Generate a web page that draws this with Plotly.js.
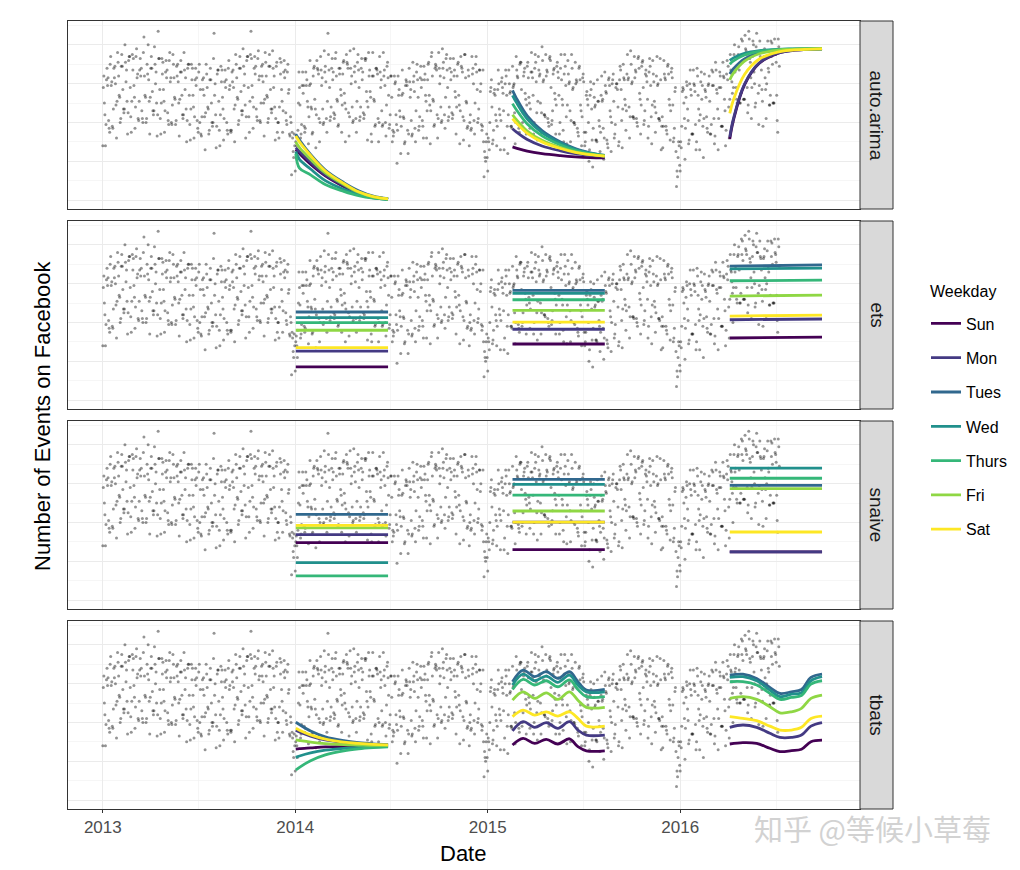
<!DOCTYPE html>
<html><head><meta charset="utf-8">
<script src="https://cdn.plot.ly/plotly-3.0.1.min.js"></script>
<style>html,body{margin:0;padding:0;background:#fff}#chart{width:1020px;height:870px}</style>
</head><body><div id="chart"></div>
<script>
// ---------- categories ----------
const weekdays = ['Sun','Mon','Tues','Wed','Thurs','Fri','Sat'];
const weekdayColors = ['#440154','#443A83','#31688E','#21908C','#35B779','#8FD744','#FDE725'];
const models = ['auto.arima','ets','snaive','tbats'];
const yearTicks = ['2013','2014','2015','2016'];

// ---------- observed daily values (one line = one week) ----------
// 2013 starts Tue Jan 1
const obs2013 = [
28,58,64,50,44,28,39, 62,68,59,63,41,37,35, 70,74,59,61,38,37,47, 68,63,69,60,49,32,51,
76,71,64,54,53,40,42, 69,75,69,57,47,45,47, 80,71,61,67,51,34,45, 72,74,74,58,43,35,51,
75,67,73,59,53,37,48, 74,78,63,65,42,41,51, 67,73,64,68,46,42,40, 76,84,64,54,53,40,42,
70,65,80,62,51,34,53, 68,74,68,56,46,44,46, 79,70,60,66,50,33,44, 87,73,73,57,42,34,50,
73,65,71,57,51,35,46, 66,72,63,67,45,41,39, 72,76,61,63,40,39,49, 75,70,63,53,52,39,41,
69,64,70,61,50,33,52, 66,72,66,54,44,42,44, 76,67,57,63,47,30,41, 68,70,70,54,39,31,47,
70,62,68,54,48,32,43, 62,68,59,63,41,37,35, 66,70,40,57,34,33,43, 62,57,63,54,43,26,45,
70,65,58,48,47,34,36, 62,68,62,50,40,38,40, 73,86,54,60,44,27,38, 65,67,67,51,36,28,44,
69,61,67,53,47,31,42, 61,67,58,62,40,36,34, 68,72,57,59,36,35,36, 66,61,67,58,47,30,49,
75,70,63,53,52,39,41, 68,74,68,56,46,44,46, 78,69,59,65,49,32,43, 72,74,74,58,43,35,51,
75,87,73,59,53,37,48, 68,74,65,69,47,43,41, 73,77,62,64,41,40,50, 69,64,70,61,50,33,52,
76,71,64,54,53,40,42, 69,75,69,57,47,45,47, 77,68,58,64,48,31,42, 69,71,35,40,40,32,48,
73,65,71,57,51,35,46, 66,72,63,67,45,41,39, 66,70,55,57,34,33,43, 40,13,35,32,25,22,34,
28];
// 2014 starts Wed Jan 1
const obs2014 = [
15,30,33,28,22,36,50, 66,58,49,32,34,39,59, 66,55,59,38,35,37,66, 59,62,51,48,29,43,59,
72,60,48,47,34,35,64, 68,69,52,47,27,44,72, 68,67,65,42,30,40,74, 67,59,63,47,39,40,77,
66,69,61,42,35,51,86, 75,67,58,41,43,48,68, 73,62,66,45,42,44,73, 76,64,52,51,38,39,68,
65,68,57,54,35,49,65, 71,72,55,50,30,47,75, 71,70,68,45,33,43,77, 68,60,64,48,40,41,78,
66,69,61,42,35,51,71, 75,67,58,41,43,48,68, 73,62,66,45,42,44,73, 72,73,56,51,31,48,76,
64,67,56,53,34,30,64, 76,64,52,51,38,39,68, 68,67,65,42,30,40,74, 66,58,62,46,38,39,76,
64,67,59,40,33,49,69, 71,63,54,37,39,44,64, 64,53,30,36,33,35,64, 60,61,44,39,19,36,64,
54,57,46,43,24,38,54, 67,55,43,42,29,30,59, 62,61,59,36,24,34,68, 61,53,57,41,33,34,71,
61,64,56,37,30,46,66, 70,62,53,36,38,43,63, 69,58,62,41,38,32,69, 62,65,54,51,32,46,62,
70,71,54,49,29,46,74, 76,64,52,51,38,39,68, 70,69,67,44,32,42,76, 68,60,64,48,40,41,78,
68,71,63,44,37,53,73, 75,67,58,41,43,48,68, 73,62,66,45,42,44,73, 64,67,56,53,34,48,64,
70,71,54,49,29,46,74, 69,68,66,43,31,41,75, 75,63,51,50,37,38,67, 64,28,40,44,36,37,74,
65,68,60,41,34,50,70, 74,66,57,40,42,47,67, 67,56,60,39,36,38,67, 30,12,25,22,20,30,34,
22];
// 2015 starts Thu Jan 1
const obs2015 = [
15,32,30,26,40,56,58, 62,48,29,31,36,55,57, 54,44,41,28,38,57,67, 60,47,44,26,41,61,63,
58,55,46,26,32,60,67, 64,54,38,24,44,67,60, 55,56,38,38,37,69,58, 59,60,45,29,40,74,67,
64,63,39,37,35,70,71, 71,57,38,40,45,64,66, 68,55,52,34,49,69,71, 63,53,50,37,47,66,76,
66,63,54,34,40,68,75, 71,61,45,31,51,74,67, 64,65,50,34,45,79,72, 61,62,44,44,43,75,64,
67,66,42,40,38,73,74, 72,58,39,41,46,65,67, 68,55,52,34,49,69,71, 66,63,54,34,40,68,75,
62,52,49,36,30,65,75, 69,59,43,29,49,72,65, 60,61,46,30,41,75,68, 57,58,40,40,39,71,60,
62,61,37,35,33,68,69, 62,49,46,28,43,63,65, 61,35,28,30,35,54,56, 52,49,40,20,26,54,61,
57,47,31,17,37,60,53, 48,49,31,31,30,62,51, 51,41,38,25,35,54,64, 51,52,37,21,32,66,59,
56,55,31,29,27,62,63, 59,46,43,25,40,60,62, 65,51,32,34,39,58,60, 60,57,48,28,30,62,69,
67,57,41,27,47,70,63, 62,52,49,36,46,65,75, 62,63,48,32,43,77,70, 60,61,43,43,42,74,63,
67,66,42,40,38,73,74, 68,55,52,34,49,69,71, 72,58,39,41,46,65,67, 64,61,52,32,38,66,73,
69,59,43,29,49,72,65, 61,51,48,35,45,64,74, 59,60,42,42,41,73,62, 26,38,43,27,38,72,65,
63,62,38,36,34,69,70, 65,52,49,31,46,66,68, 63,49,30,32,37,56,58, 25,7,15,12,22,30,28,
18];
// 2016 starts Fri Jan 1
const obs2016 = [
15,30,27,38,56,58,57, 50,42,21,37,53,61,59, 47,41,29,31,60,67,57, 54,34,34,34,67,60,59,
56,39,26,30,68,64,54, 47,41,26,44,61,66,52, 59,38,22,42,65,57,56, 53,43,37,35,59,60,64,
51,34,34,39,67,59,66, 59,42,29,33,71,67,57, 55,47,26,42,58,66,64, 58,38,38,38,71,64,63,
52,46,28,36,65,72,62, 69,48,32,52,75,67,66, 61,55,40,58,75,80,66, 68,58,52,50,74,75,79,
67,50,50,55,83,75,82, 72,52,52,52,85,78,77, 75,58,45,49,87,83,73, 71,63,42,58,74,82,80,
66,60,48,50,79,86,76, 76,55,39,59,82,74,73, 67,57,51,38,73,74,78, 63,57,42,60,77,82,68,
66,49,49,54,82,74,81, 70,50,50,50,83,76,75, 71,54,41,35,83,79,69];

// ---------- forecast windows ----------
const forecastStarts = ['2014-01-02','2015-02-17','2016-04-04'];
const forecastEnds   = ['2014-06-26','2015-08-11','2016-09-26'];
const curveOffsets = [0,7,28,56,91,119,147,175];   // days after window start

// auto.arima (rows: Sun..Sat)
const arima2014 = [
 [26,24,18.5,12.5,7,3.5,1.5,0.5],
 [27,25,19.5,13,7.5,3.8,1.6,0.5],
 [34,31,23.5,15.5,9,4.8,2,0.7],
 [25,21,16,10,5.5,2.8,1.2,0.4],
 [24,16.5,13,8,4.5,2.3,1,0.4],
 [30,27,21,14,8,4,1.7,0.6],
 [33,30,23,15,8.6,4.3,1.8,0.6]];
const arima2015 = [
 [27.4,26.8,25.2,23.9,22.9,22.3,21.9,21.7],
 [36.8,35.2,31.2,27.9,25.4,23.9,23.0,22.4],
 [56.5,52.7,43.4,35.8,29.9,26.5,24.4,23.0],
 [54.0,50.5,41.8,34.8,29.4,26.2,24.2,23.0],
 [49.7,46.7,39.2,33.1,28.4,25.6,23.9,22.8],
 [44.0,41.6,35.6,30.8,27.1,24.9,23.5,22.7],
 [42.0,39.8,34.4,30.0,26.6,24.6,23.4,22.6]];
const arima2016 = [
 [31.5,41.2,59.4,70.5,75.6,77.1,77.6,77.9],
 [32.5,42.0,59.8,70.7,75.7,77.1,77.6,77.9],
 [65,67.7,72.8,75.9,77.4,77.7,77.9,78],
 [72,73.3,75.6,77,77.7,77.9,78,78],
 [70,71.7,74.8,76.7,77.6,77.8,77.9,78],
 [62,65.4,71.6,75.4,77.2,77.7,77.9,78],
 [44.7,51.7,64.7,72.7,76.3,77.3,77.7,77.9]];

// ets (Sun..Sat)
const etsLevels2014 = [17.1,25.2,45.4,42.5,39.9,36.0,27.0];
const etsLevels2015 = [28.9,36.5,56.5,55.0,51.7,46.2,40.2];
const etsStart2016  = [32.0,41.4,69.0,67.6,61.5,53.6,43.3];
const etsEnd2016    = [32.4,41.8,69.7,68.0,61.8,54.1,43.8];

// snaive (Sun..Sat)
const snaiveLevels2014 = [29.6,33.7,44.2,19.3,12.5,37.2,38.5];
const snaiveLevels2015 = [26.0,40.2,62.2,59.6,54.1,45.9,40.2];
const snaiveLevels2016 = [24.8,24.8,59.1,68.0,62.8,57.4,35.1];

// tbats
const tbats2014 = [
 [26.3,26.5,26.9,27.4,27.6,27.8,27.9,27.9],
 [36,35.1,33,31,29.7,29,28.6,28.4],
 [40.2,38.9,35.6,32.6,30.6,29.6,29,28.6],
 [22,22.7,24.3,25.7,26.7,27.2,27.5,27.7],
 [15.5,16.9,20.3,23.3,25.4,26.4,27,27.4],
 [31,30.7,29.9,29.1,28.6,28.4,28.2,28.2],
 [37,36,33.6,31.4,29.9,29.2,28.7,28.5]];
const tbatsDates2015 = ['2015-02-17','2015-03-09','2015-03-31','2015-04-22','2015-05-14','2015-06-05','2015-06-21','2015-07-07','2015-08-11'];
const tbats2015 = [
 [28.4,31.8,29.2,31.3,28.9,31.6,27.5,25.4,25.4],
 [35.7,40.4,37.5,39.9,37.0,40.4,36.1,33.5,33.5],
 [61.0,67.0,63.6,66.2,62.7,66.2,61.0,56.7,57.0],
 [59.3,64.9,61.5,63.9,60.7,64.4,59.3,55.8,55.8],
 [57.0,62.2,59.3,61.5,58.4,61.9,57.0,53.3,53.3],
 [51.5,55.8,52.4,55.3,51.9,55.8,51.5,47.8,47.8],
 [43.0,46.4,43.8,45.5,43.3,45.5,42.1,38.1,38.1]];
const tbatsDates2016 = ['2016-04-04','2016-04-29','2016-05-25','2016-06-19','2016-07-08','2016-07-30','2016-08-18','2016-09-05','2016-09-26'];
const tbats2016 = [
 [28.9,29.6,29.2,26.7,25.0,25.5,26.2,30.1,30.9],
 [37.5,38.7,37.5,34.4,32.3,32.3,33.5,38.1,39.9],
 [64.4,64.9,62.7,58.1,55.0,55.8,57.0,63.2,64.9],
 [63.2,63.6,61.5,56.7,53.3,54.6,55.3,61.5,63.6],
 [61.0,61.0,59.3,55.0,51.9,52.9,53.9,59.8,61.5],
 [52.4,53.3,51.9,48.1,45.0,45.5,47.3,52.4,54.1],
 [43.0,42.1,40.9,38.1,36.1,36.1,37.5,42.1,43.3]];

// ---------- helpers ----------
function isoDate(y, m, d){ return new Date(Date.UTC(y, m, d)).toISOString().slice(0,10); }
function addDays(iso, n){ const t = new Date(iso + 'T00:00:00Z'); t.setUTCDate(t.getUTCDate() + n); return t.toISOString().slice(0,10); }

const obsX = [], obsY = [];
[[2013, obs2013],[2014, obs2014],[2015, obs2015],[2016, obs2016]].forEach(([yr, arr]) => {
  arr.forEach((v, i) => { obsX.push(isoDate(yr, 0, 1 + i)); obsY.push(v); });
});

function joinWindows(wins){
  const x = [], y = [];
  wins.forEach((w, k) => {
    if (k > 0) { x.push(null); y.push(null); }
    w.x.forEach(v => x.push(v)); w.y.forEach(v => y.push(v));
  });
  return {x, y};
}
const curveX = k => curveOffsets.map(d => addDays(forecastStarts[k], d));
const flatX = k => [forecastStarts[k], forecastEnds[k]];

function modelSeries(m, w){
  if (m === 0) return joinWindows([
    {x: curveX(0), y: arima2014[w]}, {x: curveX(1), y: arima2015[w]}, {x: curveX(2), y: arima2016[w]}]);
  if (m === 1) return joinWindows([
    {x: flatX(0), y: [etsLevels2014[w], etsLevels2014[w]]},
    {x: flatX(1), y: [etsLevels2015[w], etsLevels2015[w]]},
    {x: flatX(2), y: [etsStart2016[w], etsEnd2016[w]]}]);
  if (m === 2) return joinWindows([
    {x: flatX(0), y: [snaiveLevels2014[w], snaiveLevels2014[w]]},
    {x: flatX(1), y: [snaiveLevels2015[w], snaiveLevels2015[w]]},
    {x: flatX(2), y: [snaiveLevels2016[w], snaiveLevels2016[w]]}]);
  return joinWindows([
    {x: curveX(0), y: tbats2014[w]}, {x: tbatsDates2015, y: tbats2015[w]}, {x: tbatsDates2016, y: tbats2016[w]}]);
}

// ---------- traces ----------
const FONT = 'Liberation Sans, Arial, Helvetica, sans-serif';
const W = 1020, H = 870;
const panelTop = [21, 221, 421, 621], panelBottom = [209, 409, 609, 809];
const panelLeft = 68, panelRight = 860, stripRight = 893;
const ax = i => (i === 0 ? '' : String(i + 1));

const traces = [];
models.forEach((name, i) => {
  traces.push({
    type: 'scatter', mode: 'markers', x: obsX, y: obsY,
    xaxis: 'x' + ax(i), yaxis: 'y' + ax(i), showlegend: false, hoverinfo: 'skip',
    marker: {size: 3, color: 'rgba(0,0,0,0.42)', line: {width: 0}}
  });
});
models.forEach((name, i) => {
  weekdays.forEach((wd, w) => {
    const s = modelSeries(i, w);
    traces.push({
      type: 'scatter', mode: 'lines', x: s.x, y: s.y, name: wd,
      xaxis: 'x' + ax(i), yaxis: 'y' + ax(i),
      legendgroup: wd, showlegend: i === 0, connectgaps: false,
      line: {color: weekdayColors[w], width: 2.8, shape: (i === 0 || i === 3) ? 'spline' : 'linear'}
    });
  });
});

// ---------- layout ----------
const layout = {
  width: W, height: H, autosize: false,
  margin: {l: 0, r: 0, t: 0, b: 0},
  paper_bgcolor: '#ffffff', plot_bgcolor: '#ffffff',
  font: {family: FONT, color: '#000'},
  showlegend: true,
  legend: {
    x: 926 / W, y: 1 - 306.5 / H, xanchor: 'left', yanchor: 'top',
    font: {size: 16, family: FONT, color: '#000'},
    tracegroupgap: 10.5, bgcolor: 'rgba(0,0,0,0)', itemwidth: 30
  },
  shapes: [], annotations: []
};

models.forEach((name, i) => {
  const xa = {
    type: 'date', domain: [panelLeft / W, panelRight / W],
    range: ['2012-10-27', '2016-12-07'],
    anchor: 'y' + ax(i),
    tick0: '2013-01-01', dtick: 'M12', tickformat: '%Y',
    showgrid: true, gridcolor: '#ebebeb', gridwidth: 1.1,
    minor: {dtick: 'M6', tick0: '2013-01-01', showgrid: true, gridcolor: '#f2f2f2', gridwidth: 0.7},
    showline: true, mirror: true, linecolor: '#333333', linewidth: 1,
    zeroline: false,
    showticklabels: i === 3,
    ticks: i === 3 ? 'outside' : '', ticklen: 3, tickcolor: '#333333',
    tickfont: {size: 17, family: FONT, color: '#4d4d4d'}
  };
  if (i < 3) xa.matches = 'x4';
  const ya = {
    domain: [1 - panelBottom[i] / H, 1 - panelTop[i] / H],
    range: [-4.6, 92.3], anchor: 'x' + ax(i),
    tick0: 0, dtick: 20,
    showgrid: true, gridcolor: '#ebebeb', gridwidth: 1.1,
    minor: {dtick: 10, tick0: 0, showgrid: true, gridcolor: '#f2f2f2', gridwidth: 0.7},
    showline: true, mirror: true, linecolor: '#333333', linewidth: 1,
    zeroline: false, showticklabels: false, ticks: ''
  };
  layout['xaxis' + ax(i)] = xa;
  layout['yaxis' + ax(i)] = ya;

  layout.shapes.push({
    type: 'rect', xref: 'paper', yref: 'paper',
    x0: panelRight / W, x1: stripRight / W,
    y0: 1 - panelBottom[i] / H, y1: 1 - panelTop[i] / H,
    fillcolor: '#d9d9d9', line: {color: '#333333', width: 1}, layer: 'above'
  });
  layout.annotations.push({
    xref: 'paper', yref: 'paper',
    x: (panelRight + stripRight) / 2 / W, y: 1 - (panelTop[i] + panelBottom[i]) / 2 / H,
    text: name, textangle: 90, showarrow: false,
    font: {size: 19, family: FONT, color: '#1a1a1a'}, xanchor: 'center', yanchor: 'middle'
  });
});

// legend title
layout.annotations.push({
  xref: 'paper', yref: 'paper', x: 928 / W, y: 1 - 291 / H,
  text: 'Weekday', showarrow: false,
  font: {size: 16, family: FONT, color: '#000'}, xanchor: 'left', yanchor: 'middle'
});
layout.annotations.push({
  xref: 'paper', yref: 'paper', x: 42 / W, y: 1 - 416 / H,
  text: 'Number of Events on Facebook', textangle: -90, showarrow: false,
  font: {size: 22, family: FONT, color: '#000'}, xanchor: 'center', yanchor: 'middle'
});
layout.annotations.push({
  xref: 'paper', yref: 'paper', x: 463 / W, y: 1 - 853 / H,
  text: 'Date', showarrow: false,
  font: {size: 22, family: FONT, color: '#000'}, xanchor: 'center', yanchor: 'middle'
});
layout.annotations.push({
  xref: 'paper', yref: 'paper', x: 872 / W, y: 1 - 828 / H,
  text: '知乎 @等候小草莓', showarrow: false,
  font: {size: 29, family: 'Noto Sans CJK SC, sans-serif', color: '#d2d2d2'}, xanchor: 'center', yanchor: 'middle'
});

Plotly.newPlot('chart', traces, layout, {displayModeBar: false, staticPlot: true});
</script>
</body></html>
